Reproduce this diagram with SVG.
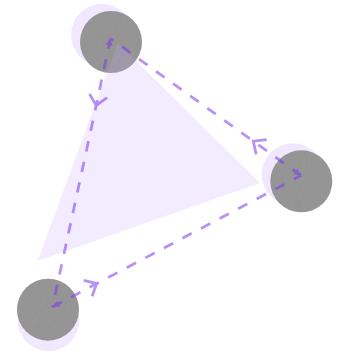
<svg xmlns="http://www.w3.org/2000/svg" width="344" height="354" viewBox="0 0 344 354">
  <style>
    .halo { fill: #f0e8fe; }
    .stone { fill: #939393; }
    .tex { filter: url(#grain); opacity: 0.12; }
    .edge { fill: none; stroke: #7c3aed; stroke-width: 2.8; stroke-dasharray: 10.5 10.5; marker-start: url(#tip); marker-mid: url(#chev); }
  </style>
  <defs>
    <filter id="grain" x="0" y="0" width="100%" height="100%">
      <feTurbulence type="fractalNoise" baseFrequency="0.9 0.12" numOctaves="2" seed="3" result="n"/>
      <feColorMatrix in="n" type="matrix" values="0 0 0 0 0.45  0 0 0 0 0.45  0 0 0 0 0.45  0 0 0 -1.6 1.3" result="g"/>
      <feComposite in="g" in2="SourceGraphic" operator="in"/>
    </filter>
    <marker id="tip" markerUnits="userSpaceOnUse" viewBox="0 0 10 10" refX="10" refY="5" markerWidth="7" markerHeight="7" orient="auto-start-reverse">
      <path d="M0,0 L10,5 L0,10 z" fill="#7c3aed"/>
    </marker>
    <marker id="chev" markerUnits="userSpaceOnUse" viewBox="-12 -11 14 22" refX="0" refY="0" markerWidth="14" markerHeight="22" orient="auto" overflow="visible">
      <path d="M-10,-9 L0,0 L-10,9" fill="none" stroke="#7c3aed" stroke-width="2.8"/>
    </marker>
  </defs>

  <g id="halos">
    <circle class="halo" cx="102" cy="35" r="31"/>
    <circle class="halo" cx="292.7" cy="174.3" r="31"/>
    <circle class="halo" cx="48.5" cy="320" r="31"/>
  </g>

  <g id="node-top">
    <circle class="stone" cx="111" cy="42" r="31"/>
    <circle class="tex" cx="111" cy="42" r="31" fill="#000"/>
  </g>
  <g id="node-right">
    <circle class="stone" cx="301.3" cy="181.3" r="31"/>
    <circle class="tex" cx="301.3" cy="181.3" r="31" fill="#000"/>
  </g>
  <g id="node-bottom">
    <circle class="stone" cx="48" cy="309.7" r="31"/>
    <circle class="tex" cx="48" cy="309.7" r="31" fill="#000"/>
  </g>

  <polygon id="area" points="118,43 260,183 37.5,261" fill="#c8aaff" fill-opacity="0.22"/>

  <g id="connectors" opacity="0.55">
    <path class="edge" d="M110.5,38.5 L96.2,105.5 L52.5,307"/>
    <path class="edge" d="M301,175.5 L253.3,141.2 L110.5,38.5"/>
    <path class="edge" d="M52.5,307 L96.7,283.6 L301,175.5"/>
  </g>
</svg>
